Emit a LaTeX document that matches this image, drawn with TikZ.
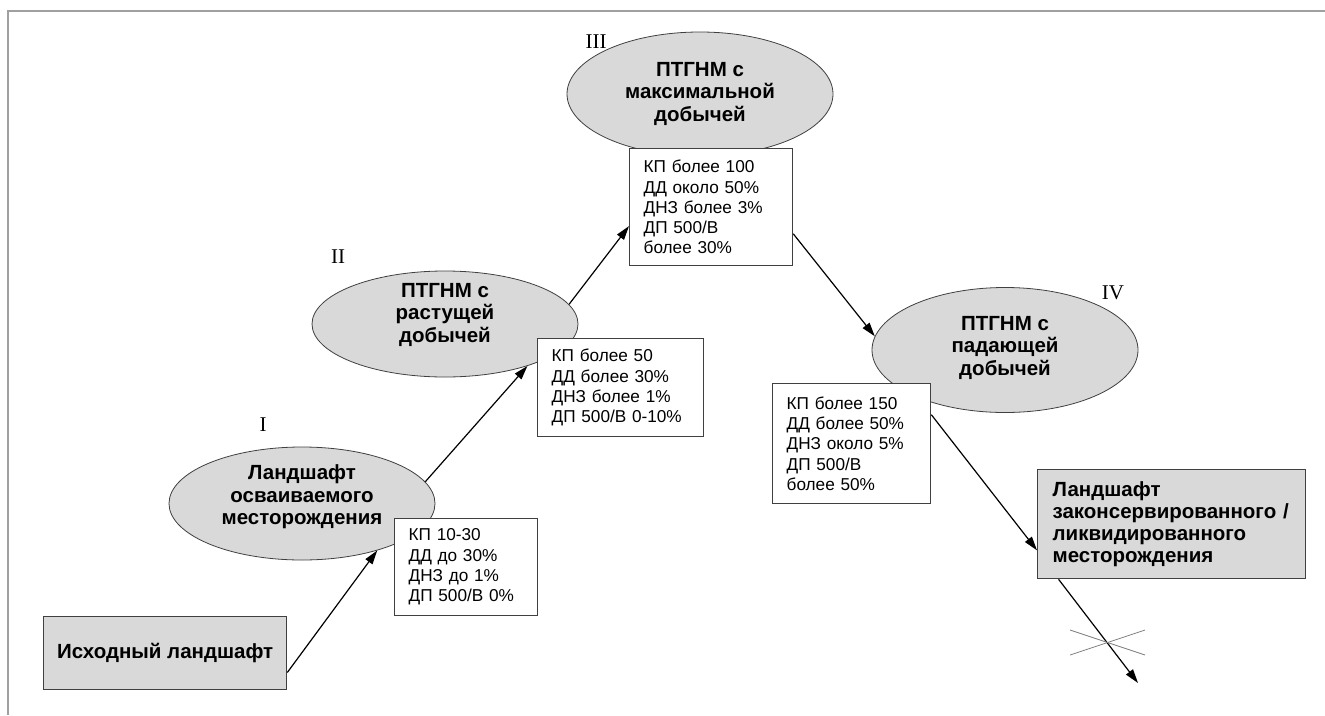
\documentclass[tikz,border=0pt]{standalone}
\usepackage{fontspec}
\setmainfont{Liberation Sans}
\newfontfamily\numfont{Liberation Serif}
\usetikzlibrary{arrows.meta,shapes.geometric,calc}
\definecolor{shade}{HTML}{D9D9D9}
\definecolor{edge}{HTML}{404040}
\definecolor{framegray}{HTML}{A0A0A0}
\definecolor{crossgray}{HTML}{808080}
\newcommand{\liftlines}[2]{\raisebox{#1}[\height][\depth]{\begin{tabular}{@{}c@{}}#2\end{tabular}}}
\begin{document}
\begin{tikzpicture}[x=1pt,y=-1pt,
  stage/.style={ellipse, draw=edge, line width=0.8pt, fill=shade,
    inner sep=0pt, font=\fontsize{20.5}{22.5}\selectfont\bfseries},
  info/.style={rectangle, draw=edge, line width=1.3pt, fill=white, align=left,
    inner xsep=14pt, inner ysep=0pt, anchor=north west,
    font=\fontsize{17.2}{20.3}\selectfont},
  landbox/.style={rectangle, draw=edge, line width=1.3pt, fill=shade,
    inner ysep=0pt, anchor=north west, font=\fontsize{20.5}{22}\selectfont\bfseries},
  flow/.style={-{Triangle[length=14pt,width=8.5pt]}, line width=1.2pt, black},
  numlabel/.style={inner sep=0pt, font=\numfont\fontsize{21}{21}\selectfont},
  crossline/.style={draw=crossgray, line width=0.8pt}]
\useasboundingbox (0,0) rectangle (1325,715);
% frame
\draw[framegray, line width=2pt] (8,715) -- (8,11) -- (1325,11);

% stages
\node[stage, minimum width=266pt, minimum height=113pt] (e1) at (302,503.5)
  {\liftlines{6pt}{Ландшафт\\осваиваемого\\месторождения}};
\node[stage, minimum width=266pt, minimum height=106pt] (e2) at (445,324)
  {\liftlines{9pt}{ПТГНМ с\\растущей\\добычей}};
\node[stage, minimum width=266pt, minimum height=124pt] (e3) at (700,94)
  {\liftlines{0pt}{ПТГНМ с\\максимальной\\добычей}};
\node[stage, minimum width=266pt, minimum height=125pt] (e4) at (1005,350)
  {\liftlines{2pt}{ПТГНМ с\\падающей\\добычей}};

% roman labels
\node[numlabel] (n1) at (263,425) {I};
\node[numlabel] (n2) at (338,257) {II};
\node[numlabel] (n3) at (596,41.5) {III};
\node[numlabel] (n4) at (1113,293) {IV};

% info boxes
\node[info, text width=115pt, minimum height=97pt] (b1) at (394,518)
  {КП 10-30\\ДД до 30\%\\ДНЗ до 1\%\\ДП 500/В 0\%};
\node[info, text width=138pt, minimum height=98pt] (b2) at (537,338)
  {КП более 50\\ДД более 30\%\\ДНЗ более 1\%\\ДП 500/В 0-10\%};
\node[info, text width=135pt, minimum height=117pt] (b3) at (629,148)
  {КП более 100\\ДД около 50\%\\ДНЗ более 3\%\\ДП 500/В\\более 30\%};
\node[info, text width=130pt, minimum height=120pt] (b4) at (772,383)
  {КП более 150\\ДД более 50\%\\ДНЗ около 5\%\\ДП 500/В\\более 50\%};

% landscape boxes
\node[landbox, align=center, inner xsep=0pt, minimum width=243pt, minimum height=73pt] (src) at (43,616)
  {Исходный ландшафт};
\node[landbox, align=left, inner xsep=15pt, text width=238pt, minimum height=109pt] (dst) at (1037,469)
  {Ландшафт\\законсервированного /\\ликвидированного\\месторождения};

% connectors
\coordinate (fin) at (1138,683);
\draw[flow] (src.-9.6) -- (e1.-32);
\draw[flow] (e1.10) -- (e2.-27);
\draw[flow] (e2.9) -- (b3.193.5);
\draw[flow] (b3.-18) -- (e4.174);
\draw[flow] (b4.20.8) -- (dst.191.2);
\draw[flow] (dst.206.1) -- (fin);

% cross
\coordinate (xa) at (1070,630);
\coordinate (xb) at (1145,655);
\coordinate (xc) at (1070,655);
\coordinate (xd) at (1145,630);
\draw[crossline] (xa) -- (xb);
\draw[crossline] (xc) -- (xd);
\end{tikzpicture}
\end{document}
